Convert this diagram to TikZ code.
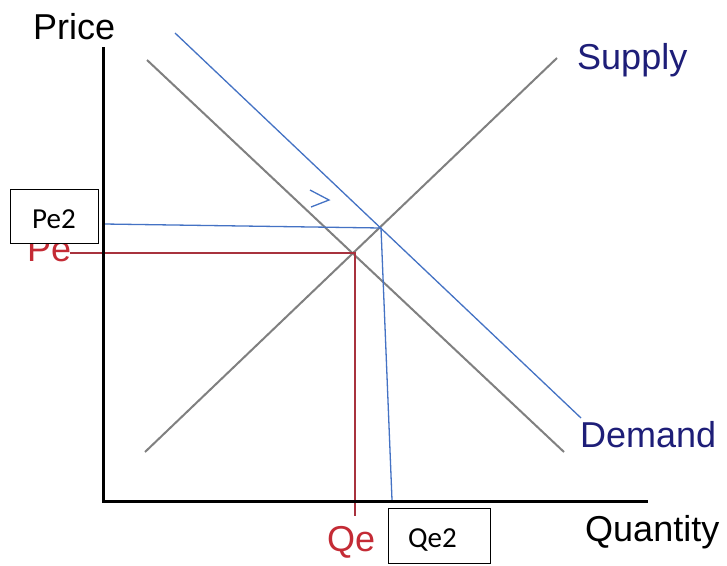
\documentclass[tikz,border=0pt]{standalone}
\usepackage{fontspec}
\setmainfont{Liberation Sans}
\newfontfamily\calib{Carlito}
\definecolor{lblue}{HTML}{4472C4}
\definecolor{dred}{HTML}{A8323E}
\definecolor{tred}{HTML}{C42B35}
\definecolor{navy}{HTML}{1E1E78}
\definecolor{curvegray}{HTML}{808080}
\tikzset{
  axisline/.style={line width=3pt, black},
  curveline/.style={line width=2pt, curvegray},
  shiftline/.style={line width=1.3pt, lblue},
  eqline/.style={line width=1.3pt, dred},
  lbl/.style={font=\fontsize{36}{40}\selectfont, inner sep=0pt, anchor=base west},
  boxframe/.style={draw, line width=1pt, fill=white, inner sep=0pt, anchor=north west},
  boxtext/.style={font=\calib\fontsize{29}{32}\selectfont, inner sep=0pt, anchor=base west}
}
\begin{document}
\begin{tikzpicture}[x=1pt,y=-1pt]
\useasboundingbox (0,0) rectangle (727,565);
\fill[white] (0,0) rectangle (727,565);
% coordinates
\coordinate (ytop) at (103,47);
\coordinate (origin) at (103,501);
\coordinate (xend) at (648,501);
\coordinate (d1) at (147,60);
\coordinate (d2) at (564,452);
\coordinate (s1) at (145,452);
\coordinate (s2) at (557,58);
\coordinate (n1) at (175,33);
\coordinate (n2) at (581,418);
\coordinate (e1) at (355,253);
\coordinate (e2) at (381,228);
\coordinate (peleft) at (70,253);
\coordinate (qebottom) at (355,516);
\coordinate (pe2left) at (104,224);
\coordinate (qe2bottom) at (392,500);
% labels
\node[lbl] (price) at (33,39) {Price};
\node[lbl, navy] (supply) at (577,69) {Supply};
\node[lbl, navy] (demand) at (580,447) {Demand};
\node[lbl] (quantity) at (585,541) {Quantity};
\node[lbl, tred] (pe) at (27,261) {Pe};
\node[lbl, tred] (qe) at (327,551) {Qe};
% curves
\draw[curveline] (d1) -- (d2);
\draw[curveline] (s1) -- (s2);
\draw[shiftline] (n1) -- (n2);
% equilibrium lines
\draw[eqline] (peleft) -- (e1) -- (qebottom);
\draw[shiftline] (pe2left) -- (e2) -- (qe2bottom);
% arrow
\coordinate (a1) at (310,190);
\coordinate (a2) at (329,200);
\coordinate (a3) at (311,207);
\draw[shiftline] (a1) -- (a2) -- (a3);
% axes
\draw[axisline] (ytop) -- (origin) -- (xend);
% boxes
\node[boxframe, minimum width=88pt, minimum height=54pt] (pe2box) at (10,189) {};
\node[boxtext] (pe2) at (32,228) {Pe2};
\node[boxframe, minimum width=102pt, minimum height=55pt] (qe2box) at (388,508) {};
\node[boxtext] (qe2) at (408,547) {Qe2};
\end{tikzpicture}
\end{document}
